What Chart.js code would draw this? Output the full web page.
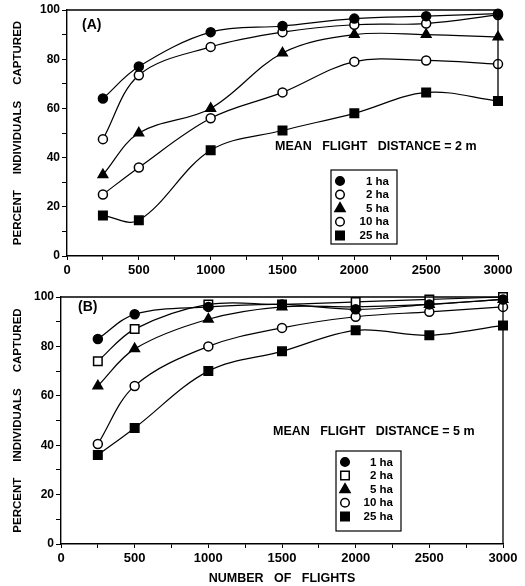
<!DOCTYPE html>
<html>
<head>
<meta charset="utf-8">
<script src="https://cdn.jsdelivr.net/npm/chart.js@4/dist/chart.umd.min.js"></script>
<style>
  html, body { margin: 0; padding: 0; background: #fff; }
  #wrap { position: relative; width: 525px; height: 586px; }
  #wrap canvas { position: absolute; left: 0; }
  #panelA { top: 0; }
  #panelB { top: 280px; }
</style>
</head>
<body>
<div id="wrap">
  <canvas id="panelA" width="525" height="280"></canvas>
  <canvas id="panelB" width="525" height="306"></canvas>
</div>
<script>
// number of flights sampled
const flights = [250, 500, 1000, 1500, 2000, 2500, 3000];
const plotSizes = ['1 ha', '2 ha', '5 ha', '10 ha', '25 ha'];

// (A) mean flight distance 2 m, percent captured
const capA1 = [64, 77, 91, 93.5, 96.5, 97.5, 98.5];
const capA2 = [47.5, 73.5, 85, 91, 94, 94.5, 98];
const capA5 = [33, 50, 60, 82.5, 90, 90, 89];
const capA10 = [25, 36, 56, 66.5, 79, 79.5, 78];
const capA25 = [16.5, 14.5, 43, 51, 58, 66.5, 63];

// (B) mean flight distance 5 m
const capB1 = [83, 93, 96, 97, 95, 97, 99];
const capB2 = [74, 87, 97, 97, 98, 99, 100];
const capB5 = [64, 79, 91, 96, 96, 97, 99];
const capB10 = [40.5, 64, 80, 87.5, 92, 94, 96];
const capB25 = [36, 47, 70, 78, 86.5, 84.5, 88.5];

const xLabelTicks = [0, 500, 1000, 1500, 2000, 2500, 3000];
const yLabelTicks = [0, 20, 40, 60, 80, 100];

const FONT = '"Liberation Sans", Arial, Helvetica, sans-serif';

function drawMarker(ctx, style, x, y, r, filled) {
  ctx.save();
  ctx.beginPath();
  if (style === 'circle') {
    ctx.arc(x, y, r, 0, Math.PI * 2);
  } else if (style === 'rect') {
    const s = r * Math.SQRT1_2;
    ctx.rect(x - s, y - s, 2 * s, 2 * s);
  } else if (style === 'triangle') {
    ctx.moveTo(x, y - r);
    ctx.lineTo(x + r * 0.92, y + r * 0.6);
    ctx.lineTo(x - r * 0.92, y + r * 0.6);
    ctx.closePath();
  }
  ctx.fillStyle = filled ? '#000' : '#fff';
  ctx.fill();
  ctx.lineWidth = 1.5;
  ctx.strokeStyle = '#000';
  ctx.stroke();
  ctx.restore();
}

// panel letter, note, legend box and frame lines
const decor = {
  id: 'decor',
  afterDatasetsDraw(chart, args, opts) {
    const ctx = chart.ctx;
    const a = chart.chartArea;
    const ys = chart.scales.y;
    ctx.save();
    ctx.strokeStyle = '#000';
    ctx.lineWidth = 1.3;
    ctx.beginPath();
    ctx.moveTo(a.left, a.top);
    ctx.lineTo(a.right, a.top);
    ctx.moveTo(a.right, a.top);
    ctx.lineTo(a.right, ys.getPixelForValue(opts.rightTo));
    ctx.stroke();

    ctx.fillStyle = '#000';
    ctx.font = 'bold 14px ' + FONT;
    ctx.textBaseline = 'middle';
    ctx.textAlign = 'left';
    ctx.fillText(opts.label, opts.labelX, opts.labelY);

    ctx.font = 'bold 12.5px ' + FONT;
    ctx.fillText(opts.note, opts.noteX, opts.noteY);

    // legend
    const L = opts.legend;
    ctx.lineWidth = 1.2;
    ctx.strokeRect(L.x, L.y, L.w, L.h);
    ctx.font = 'bold 11.5px ' + FONT;
    ctx.textAlign = 'right';
    chart.data.datasets.forEach((ds, i) => {
      const yy = L.y + 11 + i * 13.6;
      const filled = ds.pointBackgroundColor === '#000';
      drawMarker(ctx, ds.pointStyle, L.x + 9, yy, ds.pointStyle === 'rect' ? 6 : (ds.pointStyle === 'triangle' ? 5.5 : 4.3), filled);
      ctx.fillText(ds.label, L.x + L.w - 8, yy + 0.5);
    });
    ctx.restore();
  }
};

function makeSet(label, values, style, filled) {
  return {
    label: label,
    data: values.map((v, i) => ({ x: flights[i], y: v })),
    borderColor: '#000',
    borderWidth: 1.2,
    tension: 0.35,
    pointStyle: style,
    pointRadius: style === 'rect' ? 6 : (style === 'triangle' ? 5.5 : 4.5),
    pointBorderWidth: 1.5,
    pointBorderColor: '#000',
    pointBackgroundColor: filled ? '#000' : '#fff',
    clip: false
  };
}

function axisOpts(kind, width, height, withTitle, titleY) {
  const common = {
    type: 'linear',
    grid: { display: true, drawOnChartArea: false, drawTicks: true, tickLength: kind === 'x' ? 4 : 5, color: '#000', lineWidth: 1 },
    border: { display: true, color: '#000', width: 1.4 }
  };
  if (kind === 'x') {
    return Object.assign(common, {
      min: 0, max: 3000,
      ticks: {
        stepSize: 250, autoSkip: false, maxRotation: 0, padding: 3, color: '#000',
        font: { family: FONT, size: 13, weight: 'bold' },
        callback: v => xLabelTicks.includes(v) ? String(v) : ''
      },
      title: {
        display: withTitle, text: 'NUMBER   OF   FLIGHTS', color: '#000',
        font: { family: FONT, size: 12.5, weight: 'bold' }, padding: { top: 2, bottom: 0 }
      },
      afterFit: s => { s.height = height; }
    });
  }
  return Object.assign(common, {
    min: 0, max: 100,
    ticks: {
      stepSize: 10, padding: 2, color: '#000',
      font: { family: FONT, size: 12, weight: 'bold' },
      callback: v => yLabelTicks.includes(v) ? String(v) : ''
    },
    title: {
      display: true, text: 'PERCENT     INDIVIDUALS     CAPTURED', color: '#000',
      font: { family: FONT, size: 11.5, weight: 'bold' }, padding: { top: titleY, bottom: 0 }
    },
    afterFit: s => { s.width = width; }
  });
}

function buildPanel(id, sets, pad, yWidth, xHeight, xTitle, deco, titleY) {
  return new Chart(document.getElementById(id), {
    type: 'line',
    data: { datasets: sets },
    options: {
      responsive: false,
      animation: false,
      layout: { padding: pad },
      plugins: { legend: { display: false }, tooltip: { enabled: false }, decor: deco },
      scales: {
        x: axisOpts('x', 0, xHeight, xTitle),
        y: axisOpts('y', yWidth, 0, false, titleY)
      }
    },
    plugins: [decor]
  });
}

buildPanel('panelA', [
  makeSet(plotSizes[0], capA1, 'circle', true),
  makeSet(plotSizes[1], capA2, 'circle', false),
  makeSet(plotSizes[2], capA5, 'triangle', true),
  makeSet(plotSizes[3], capA10, 'circle', false),
  makeSet(plotSizes[4], capA25, 'rect', true)
], { left: 0, right: 27, top: 10, bottom: 0 }, 67, 24, false, {
  label: '(A)', labelX: 82, labelY: 25,
  note: 'MEAN   FLIGHT   DISTANCE = 2 m', noteX: 275, noteY: 147,
  legend: { x: 331, y: 170, w: 66, h: 74 },
  rightTo: 63
}, 11);

buildPanel('panelB', [
  makeSet(plotSizes[0], capB1, 'circle', true),
  makeSet(plotSizes[1], capB2, 'rect', false),
  makeSet(plotSizes[2], capB5, 'triangle', true),
  makeSet(plotSizes[3], capB10, 'circle', false),
  makeSet(plotSizes[4], capB25, 'rect', true)
], { left: 0, right: 22, top: 17, bottom: 0 }, 61, 42, true, {
  label: '(B)', labelX: 78, labelY: 27,
  note: 'MEAN   FLIGHT   DISTANCE = 5 m', noteX: 273, noteY: 152,
  legend: { x: 336, y: 171, w: 65, h: 80 },
  rightTo: 0
}, 11);
</script>
</body>
</html>
